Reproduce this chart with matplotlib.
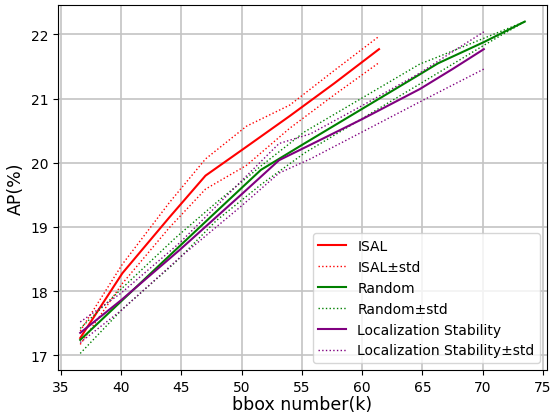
import matplotlib
matplotlib.use('Agg')
import matplotlib.pyplot as plt

# ISAL
isal_x = [36.6, 40.1, 44.0, 47.0, 50.4, 54.0, 57.7, 61.4]
isal_mean = [17.27, 18.28, 19.15, 19.80, 20.25, 20.73, 21.24, 21.77]
isal_up = [17.38, 18.42, 19.38, 20.06, 20.57, 20.90, 21.44, 21.97]
isal_low = [17.17, 18.12, 18.99, 19.59, 19.96, 20.54, 21.06, 21.56]

# Random
rand_x = [36.6, 40.1, 44.5, 47.9, 51.6, 55.2, 60.0, 64.8, 66.3, 70.1, 73.5]
rand_mean = [17.24, 17.86, 18.64, 19.24, 19.89, 20.30, 20.84, 21.38, 21.55, 21.88, 22.20]
rand_up = [17.42, 18.05, 18.83, 19.38, 19.95, 20.48, 21.01, 21.54, 21.65, 21.94, 22.20]
rand_low = [17.03, 17.72, 18.45, 19.10, 19.66, 20.15, 20.69, 21.23, 21.40, 21.83, 22.20]

# Localization Stability
ls_x = [36.6, 40.0, 44.9, 50.0, 53.1, 55.7, 60.0, 64.8, 67.5, 70.1]
ls_mean = [17.35, 17.86, 18.65, 19.51, 20.04, 20.28, 20.68, 21.15, 21.46, 21.77]
ls_up = [17.52, 17.97, 18.76, 19.72, 20.30, 20.45, 20.89, 21.40, 21.73, 22.04]
ls_low = [17.20, 17.70, 18.53, 19.33, 19.84, 20.06, 20.48, 20.95, 21.21, 21.46]

fig = plt.figure(figsize=(5.51, 4.14), dpi=100)
ax = fig.add_axes([58 / 551, 43 / 414, 489 / 551, 365 / 414])

ax.plot(isal_x, isal_mean, color='red', linewidth=1.5, label='ISAL')
ax.plot(isal_x, isal_up, color='red', linestyle=':', linewidth=1.0, label='ISAL±std')
ax.plot(isal_x, isal_low, color='red', linestyle=':', linewidth=1.0)

ax.plot(rand_x, rand_mean, color='green', linewidth=1.5, label='Random')
ax.plot(rand_x, rand_up, color='green', linestyle=':', linewidth=1.0, label='Random±std')
ax.plot(rand_x, rand_low, color='green', linestyle=':', linewidth=1.0)

ax.plot(ls_x, ls_mean, color='purple', linewidth=1.5, label='Localization Stability')
ax.plot(ls_x, ls_up, color='purple', linestyle=':', linewidth=1.0, label='Localization Stability±std')
ax.plot(ls_x, ls_low, color='purple', linestyle=':', linewidth=1.0)

ax.set_xlabel('bbox number(k)', fontsize=12.5, labelpad=1)
ax.set_ylabel('AP(%)', fontsize=12.5)
ax.tick_params(labelsize=10)
ax.grid(True, color='#c4c4c4', linewidth=1.2)
ax.legend(loc='lower right', fontsize=10)

plt.savefig('out.png', dpi=100)
